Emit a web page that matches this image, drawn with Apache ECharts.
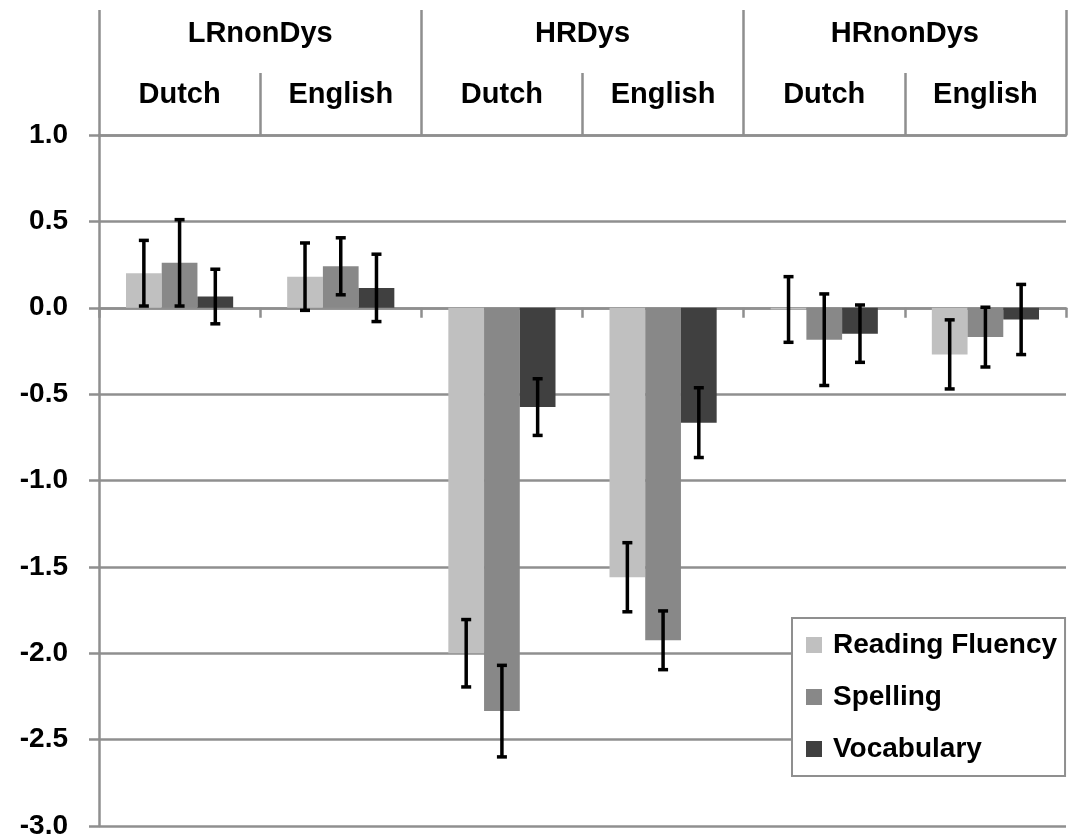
<!DOCTYPE html>
<html>
<head>
<meta charset="utf-8">
<script src="https://cdn.jsdelivr.net/npm/echarts@6/dist/echarts.min.js"></script>
<style>
  html, body { margin: 0; padding: 0; background: #fff; }
  #chartsDiv { width: 1075px; height: 840px; }
</style>
</head>
<body>
<div id="chartsDiv"></div>
<script>
// categories
var languages = ['Dutch', 'English', 'Dutch', 'English', 'Dutch', 'English']
var groups = ['LRnonDys', 'HRDys', 'HRnonDys']
var seriesNames = ['Reading Fluency', 'Spelling', 'Vocabulary']

// means (z-scores)
var fluency = [0.20, 0.18, -2.00, -1.56, -0.01, -0.27]
var spelling = [0.26, 0.24, -2.335, -1.925, -0.185, -0.17]
var vocabulary = [0.065, 0.115, -0.575, -0.665, -0.15, -0.068]

// half-length of the error bars
var fluencyErr = [0.19, 0.195, 0.195, 0.20, 0.19, 0.20]
var spellingErr = [0.25, 0.165, 0.265, 0.17, 0.265, 0.173]
var vocabularyErr = [0.158, 0.195, 0.164, 0.202, 0.166, 0.203]

// y axis ticks
var yMin = -3.0
var yMax = 1.0
var yStep = 0.5

var colors = ['#c0c0c0', '#888888', '#404040']
var lineGray = '#8f8f8f'
var font = '"Liberation Sans", Arial, sans-serif'
var catGap = 0.335

var errData = function(means, errs) {
  return means.map(function(m, i) {
    return [i, m - errs[i], m + errs[i]]
  })
}

var errRenderer = function(idx) {
  return function(params, api) {
    var cat = api.value(0)
    var band = api.size([1, 0])[0]
    var bw = band * (1 - catGap) / 3
    var x = api.coord([cat, 0])[0] + (idx - 1) * bw
    var yLo = api.coord([cat, api.value(1)])[1]
    var yHi = api.coord([cat, api.value(2)])[1]
    var cap = 5
    var st = { stroke: '#000', lineWidth: 3.5 }
    return {
      type: 'group',
      children: [
        { type: 'line', shape: { x1: x, y1: yLo, x2: x, y2: yHi }, style: st },
        { type: 'line', shape: { x1: x - cap, y1: yLo, x2: x + cap, y2: yLo }, style: st },
        { type: 'line', shape: { x1: x - cap, y1: yHi, x2: x + cap, y2: yHi }, style: st }
      ]
    }
  }
}

var chart = echarts.init(document.getElementById('chartsDiv'), null, { renderer: 'canvas' })

var option = {
  animation: false,
  textStyle: { fontFamily: font },
  color: colors,
  grid: { left: 99, right: 9, top: 135, bottom: 11, containLabel: false },
  legend: {
    orient: 'vertical',
    left: 792,
    top: 618,
    padding: [12, 8, 12, 14],
    itemGap: 22,
    itemWidth: 16,
    itemHeight: 16,
    icon: 'rect',
    backgroundColor: '#fff',
    borderColor: lineGray,
    borderWidth: 2,
    textStyle: {
      color: '#000',
      fontFamily: font,
      fontWeight: 'bold',
      fontSize: 28,
      lineHeight: 30,
      padding: [0, 0, 0, 6]
    },
    data: seriesNames
  },
  xAxis: [
    {
      // axis sitting on zero, with small ticks below
      type: 'category',
      data: languages,
      position: 'bottom',
      axisLine: { onZero: true, lineStyle: { color: lineGray, width: 2.5 } },
      axisTick: { show: true, length: 10, lineStyle: { color: lineGray, width: 2.5 } },
      axisLabel: { show: false },
      splitLine: { show: false }
    },
    {
      // language row of the header
      type: 'category',
      data: languages,
      position: 'top',
      axisLine: { show: true, lineStyle: { color: lineGray, width: 2.5 } },
      axisTick: { show: true, length: 62, lineStyle: { color: lineGray, width: 2.5 } },
      axisLabel: {
        margin: 26,
        color: '#000',
        fontFamily: font,
        fontWeight: 'bold',
        fontSize: 29
      },
      splitLine: { show: false }
    },
    {
      // group row of the header
      type: 'category',
      data: groups,
      position: 'top',
      axisLine: { show: false },
      axisTick: { show: true, length: 125, lineStyle: { color: lineGray, width: 2.5 } },
      axisLabel: {
        margin: 87,
        color: '#000',
        fontFamily: font,
        fontWeight: 'bold',
        fontSize: 29
      },
      splitLine: { show: false }
    }
  ],
  yAxis: {
    type: 'value',
    min: yMin,
    max: yMax,
    interval: yStep,
    axisLine: { show: true, lineStyle: { color: lineGray, width: 2.5 } },
    axisTick: { show: true, length: 10, lineStyle: { color: lineGray, width: 2.5 } },
    splitLine: { show: true, lineStyle: { color: lineGray, width: 2.5 } },
    axisLabel: {
      margin: 31,
      color: '#000',
      fontFamily: font,
      fontWeight: 'bold',
      fontSize: 28,
      formatter: function(v) {
        return v.toFixed(1)
      }
    }
  },
  series: [
    {
      name: seriesNames[0],
      type: 'bar',
      data: fluency,
      barGap: '0%',
      barCategoryGap: catGap * 100 + '%'
    },
    {
      name: seriesNames[1],
      type: 'bar',
      data: spelling,
      barGap: '0%',
      barCategoryGap: catGap * 100 + '%'
    },
    {
      name: seriesNames[2],
      type: 'bar',
      data: vocabulary,
      barGap: '0%',
      barCategoryGap: catGap * 100 + '%'
    },
    {
      type: 'custom',
      renderItem: errRenderer(0),
      data: errData(fluency, fluencyErr),
      z: 5
    },
    {
      type: 'custom',
      renderItem: errRenderer(1),
      data: errData(spelling, spellingErr),
      z: 5
    },
    {
      type: 'custom',
      renderItem: errRenderer(2),
      data: errData(vocabulary, vocabularyErr),
      z: 5
    }
  ]
}

chart.setOption(option)
</script>
</body>
</html>
